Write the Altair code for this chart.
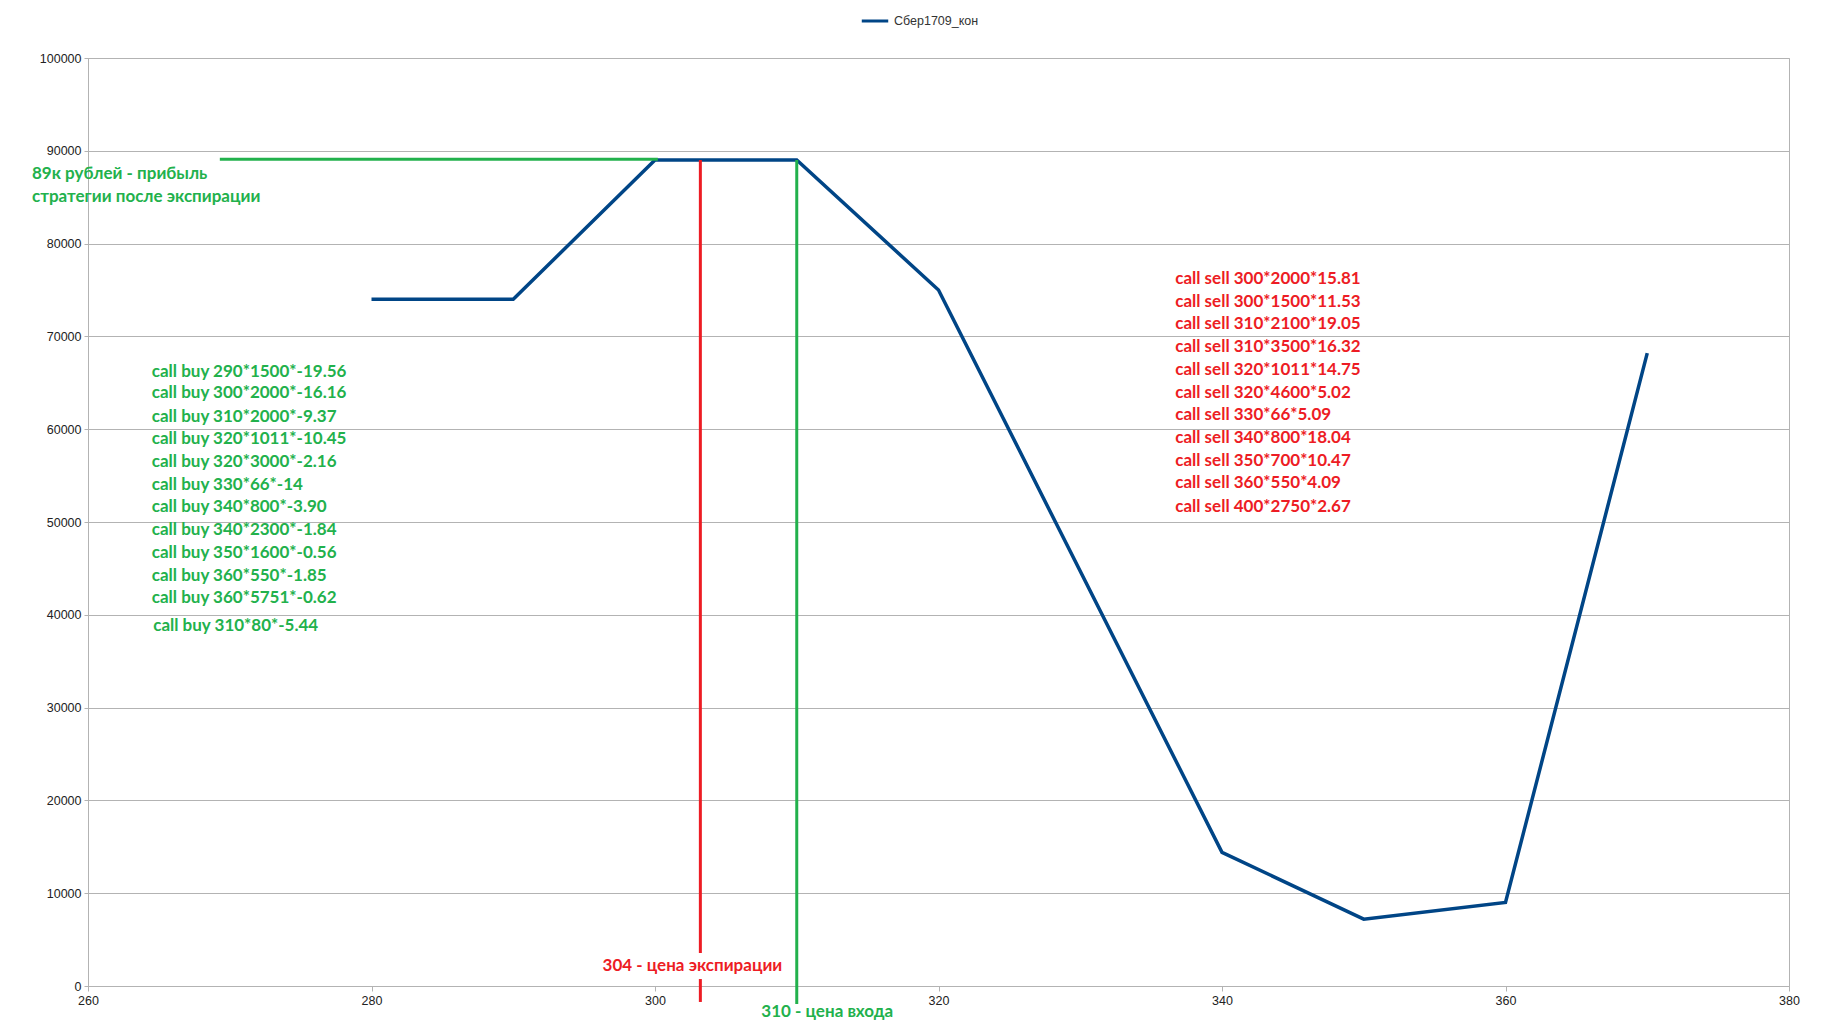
import altair as alt
import pandas as pd

# ---- data ----
strike = [280, 290, 300, 310, 320, 340, 350, 360, 370]
profit = [74000, 74000, 89000, 89000, 75000, 14400, 7200, 9000, 68200]
series_name = "Сбер1709_кон"

buy_lines = [
    "call buy 290*1500*-19.56",
    "call buy 300*2000*-16.16",
    "call buy 310*2000*-9.37",
    "call buy 320*1011*-10.45",
    "call buy 320*3000*-2.16",
    "call buy 330*66*-14",
    "call buy 340*800*-3.90",
    "call buy 340*2300*-1.84",
    "call buy 350*1600*-0.56",
    "call buy 360*550*-1.85",
    "call buy 360*5751*-0.62",
    "call buy 310*80*-5.44",
]
sell_lines = [
    "call sell 300*2000*15.81",
    "call sell 300*1500*11.53",
    "call sell 310*2100*19.05",
    "call sell 310*3500*16.32",
    "call sell 320*1011*14.75",
    "call sell 320*4600*5.02",
    "call sell 330*66*5.09",
    "call sell 340*800*18.04",
    "call sell 350*700*10.47",
    "call sell 360*550*4.09",
    "call sell 400*2750*2.67",
]
profit_note = ["89к рублей - прибыль", "стратегии после экспирации"]
expiry_label = "304 - цена экспирации"
entry_label = "310 - цена входа"
expiry_price = 303.2
entry_price = 310
profit_level = 89100
profit_line_from = 269.3
profit_line_to = 300.2

# annotation anchors (data coordinates)
buy_x = [264.5] * 11 + [264.6]
buy_y = [66200, 63870, 61350, 58910, 56500, 53990, 51590, 49140, 46690, 44180, 41780, 38790]
sell_x = 336.7
sell_y = [76150, 73740, 71340, 68830, 66380, 63930, 61500, 59020, 56610, 54170, 51650]
note_x = 256.05
note_y = [87500, 85020]
expiry_label_pos = (296.3, 2155)
entry_label_pos = (307.5, -2770)
expiry_segments = [(89000, 3550), (750, -1720)]
entry_segment = (89000, -1940)

GREEN = "#22B14C"
RED = "#ED1C24"
BLUE = "#004586"
GRID = "#b3b3b3"

xscale = alt.Scale(domain=[260, 380], nice=False, zero=False)
yscale = alt.Scale(domain=[0, 100000], nice=False)
xaxis = alt.Axis(values=list(range(260, 381, 20)), grid=False, title=None,
                 domainColor=GRID, tickColor=GRID, tickSize=5,
                 labelFont="Liberation Sans", labelFontSize=12.5, labelFlush=False,
                 labelColor="#222", labelPadding=3)
yaxis = alt.Axis(values=list(range(0, 100001, 10000)), format="d", grid=True,
                 gridColor=GRID, title=None, domainColor=GRID, tickColor=GRID,
                 tickSize=4, labelFont="Liberation Sans", labelFontSize=12.5,
                 labelFlush=False, labelColor="#222", labelPadding=3)


def X(field="x:Q"):
    return alt.X(field, scale=xscale, axis=xaxis)


def Y(field="y:Q"):
    return alt.Y(field, scale=yscale, axis=yaxis)


line_df = pd.DataFrame({"x": strike, "y": profit, "series": series_name})

line = alt.Chart(line_df).mark_line(strokeWidth=3.5, strokeJoin="miter").encode(
    x=X(), y=Y(),
    color=alt.Color("series:N", scale=alt.Scale(range=[BLUE]),
                    legend=alt.Legend(orient="none", legendX=772, legendY=-52, title=None,
                                      symbolType="stroke", symbolStrokeWidth=3,
                                      symbolSize=700, labelFontSize=12.5,
                                      labelFont="Liberation Sans", labelColor="#333",
                                      direction="horizontal")),
)

red_df = pd.DataFrame({"x": [expiry_price] * len(expiry_segments),
                       "y": [s[0] for s in expiry_segments],
                       "y2": [s[1] for s in expiry_segments]})
red_rules = alt.Chart(red_df).mark_rule(color=RED, strokeWidth=3).encode(
    x=X(), y=Y(), y2="y2:Q",
)

green_v_df = pd.DataFrame({"x": [entry_price], "y": [entry_segment[0]], "y2": [entry_segment[1]]})
green_v = alt.Chart(green_v_df).mark_rule(color=GREEN, strokeWidth=3).encode(
    x=X(), y=Y(), y2="y2:Q",
)

green_h_df = pd.DataFrame({"x": [profit_line_from], "x2": [profit_line_to], "y": [profit_level]})
green_h = alt.Chart(green_h_df).mark_rule(color=GREEN, strokeWidth=3).encode(
    x=X(), x2="x2:Q", y=Y(),
)

text_style = dict(align="left", baseline="middle", font="Lato", fontWeight="bold", fontSize=17)

green_text_df = pd.DataFrame({
    "x": buy_x + [note_x] * len(profit_note) + [entry_label_pos[0]],
    "y": buy_y + note_y + [entry_label_pos[1]],
    "t": buy_lines + profit_note + [entry_label],
})
green_text = alt.Chart(green_text_df).mark_text(color=GREEN, **text_style).encode(
    x=X(), y=Y(), text="t:N",
)

red_text_df = pd.DataFrame({
    "x": [sell_x] * len(sell_lines) + [expiry_label_pos[0]],
    "y": sell_y + [expiry_label_pos[1]],
    "t": sell_lines + [expiry_label],
})
red_text = alt.Chart(red_text_df).mark_text(color=RED, **text_style).encode(
    x=X(), y=Y(), text="t:N",
)

chart = alt.layer(line, green_h, red_rules, green_v, green_text, red_text).properties(
    width=1701, height=928,
    autosize=alt.AutoSizeParams(type="none"),
    padding={"left": 80, "top": 50, "right": 40, "bottom": 38},
    background="white",
).configure_view(stroke=GRID, strokeWidth=1)

chart.save("out.html", embed_options={"renderer": "svg", "actions": False})
